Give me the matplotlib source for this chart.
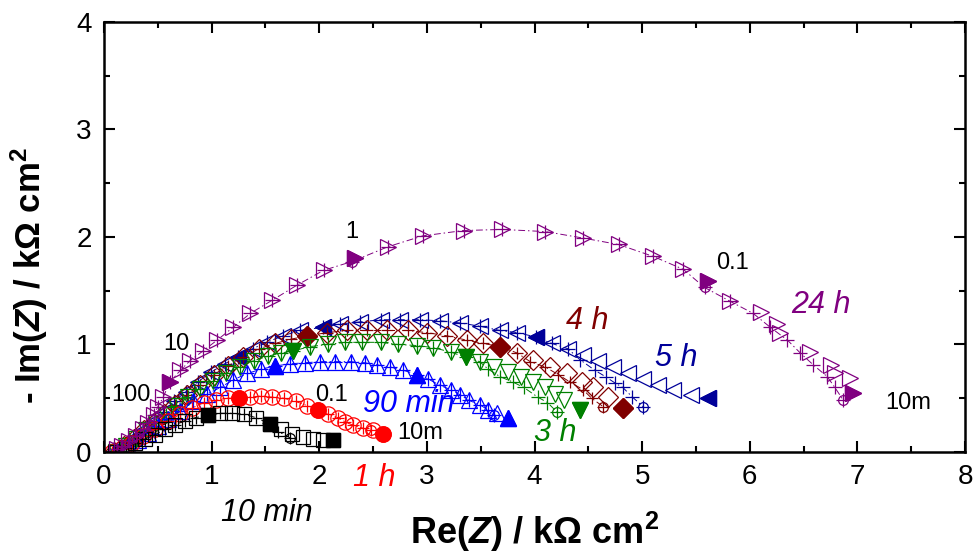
import matplotlib
matplotlib.use("Agg")
import matplotlib.pyplot as plt
from matplotlib.ticker import MultipleLocator

plt.rcParams['font.family'] = ['Liberation Sans', 'DejaVu Sans']
plt.rcParams['mathtext.fontset'] = 'custom'
plt.rcParams['mathtext.rm'] = 'Liberation Sans:bold'
plt.rcParams['mathtext.it'] = 'Liberation Sans:bold:italic'
plt.rcParams['mathtext.bf'] = 'Liberation Sans:bold'

# ---- data (Re Z, -Im Z in kOhm cm2) ----
# 10 min  (black squares)
x10 = [0.10,0.20,0.29,0.38,0.47,0.57,0.66,0.75,0.85,0.97,1.08,1.19,1.30,1.41,1.54,1.64,1.75,1.85,1.94,2.03,2.13]
y10 = [0.00,0.04,0.08,0.12,0.16,0.21,0.25,0.29,0.32,0.34,0.36,0.36,0.35,0.32,0.26,0.21,0.17,0.14,0.12,0.11,0.11]
x10_fit = [0.10,0.20,0.29,0.38,0.47,0.57,0.66,0.75,0.85,0.97,1.08,1.19,1.30,1.41,1.52,1.62,1.73]
y10_fit = [0.00,0.04,0.08,0.12,0.16,0.21,0.25,0.29,0.32,0.34,0.36,0.36,0.35,0.32,0.27,0.19,0.13]
x10_dec = [0.97, 1.54, 2.13]
y10_dec = [0.34, 0.26, 0.11]

# 1 h  (red circles)
x1 = [0.07,0.17,0.26,0.36,0.47,0.59,0.71,0.82,0.93,1.04,1.15,1.25,1.36,1.46,1.56,1.67,1.78,1.89,1.99,2.08,2.17,2.24,2.31,2.41,2.50,2.59]
y1 = [0.00,0.04,0.08,0.15,0.21,0.29,0.35,0.41,0.46,0.48,0.50,0.50,0.51,0.52,0.51,0.50,0.47,0.43,0.39,0.35,0.32,0.28,0.25,0.22,0.20,0.17]
x1_fit = [0.07,0.17,0.26,0.36,0.47,0.59,0.71,0.82,0.93,1.04,1.15,1.25,1.36,1.46,1.56,1.67,1.78,1.89,1.99,2.08,2.17,2.24,2.31,2.41,2.48]
y1_fit = [0.00,0.04,0.08,0.15,0.21,0.29,0.35,0.41,0.46,0.48,0.50,0.50,0.51,0.52,0.51,0.50,0.47,0.43,0.39,0.35,0.32,0.28,0.25,0.22,0.20]
x1_dec = [1.25, 1.99, 2.59]
y1_dec = [0.50, 0.39, 0.17]

# 90 min  (blue up triangles)
x90 = [0.13,0.22,0.32,0.41,0.50,0.59,0.71,0.83,0.96,1.08,1.20,1.33,1.46,1.59,1.73,1.87,2.01,2.15,2.29,2.42,2.54,2.66,2.78,2.91,3.01,3.12,3.22,3.31,3.39,3.49,3.57,3.65,3.75]
y90 = [0.00,0.06,0.11,0.18,0.24,0.31,0.38,0.47,0.54,0.60,0.67,0.73,0.77,0.80,0.82,0.83,0.84,0.84,0.84,0.83,0.81,0.79,0.76,0.72,0.68,0.62,0.58,0.53,0.48,0.44,0.39,0.36,0.32]
x90_fit = [0.13,0.22,0.32,0.41,0.50,0.59,0.71,0.83,0.96,1.08,1.20,1.33,1.46,1.59,1.73,1.87,2.01,2.15,2.29,2.42,2.54,2.66,2.78,2.91,3.01,3.12,3.22,3.31,3.39,3.49,3.57,3.62]
y90_fit = [0.00,0.06,0.11,0.18,0.24,0.31,0.38,0.47,0.54,0.60,0.67,0.73,0.77,0.80,0.82,0.83,0.84,0.84,0.84,0.83,0.81,0.79,0.76,0.72,0.68,0.62,0.58,0.53,0.48,0.44,0.39,0.34]
x90_dec = [1.59, 2.91, 3.75]
y90_dec = [0.80, 0.72, 0.32]

# 3 h  (green down triangles)
x3 = [0.11,0.20,0.30,0.39,0.48,0.58,0.67,0.78,0.89,1.01,1.13,1.26,1.39,1.52,1.64,1.76,1.91,2.08,2.24,2.40,2.57,2.73,2.91,3.06,3.22,3.36,3.49,3.62,3.75,3.87,3.99,4.10,4.19,4.27,4.42]
y3 = [0.00,0.06,0.12,0.20,0.27,0.34,0.43,0.51,0.59,0.66,0.73,0.79,0.85,0.89,0.92,0.94,0.98,1.00,1.02,1.02,1.02,1.00,0.99,0.97,0.93,0.88,0.84,0.79,0.74,0.70,0.65,0.60,0.54,0.48,0.39]
x3_fit = [0.11,0.20,0.30,0.39,0.48,0.58,0.67,0.78,0.89,1.01,1.13,1.26,1.39,1.52,1.64,1.76,1.91,2.08,2.24,2.40,2.57,2.73,2.91,3.06,3.22,3.36,3.49,3.57,3.68,3.80,3.90,4.03,4.12,4.21]
y3_fit = [0.00,0.06,0.12,0.20,0.27,0.34,0.43,0.51,0.59,0.66,0.73,0.79,0.85,0.89,0.92,0.94,0.98,1.00,1.02,1.02,1.02,1.00,0.99,0.97,0.93,0.88,0.84,0.77,0.70,0.65,0.60,0.51,0.46,0.37]
x3_dec = [1.76, 3.36, 4.42]
y3_dec = [0.94, 0.88, 0.39]

# 4 h  (dark red diamonds)
x4 = [0.09,0.19,0.28,0.37,0.46,0.56,0.66,0.77,0.89,1.02,1.15,1.29,1.44,1.59,1.74,1.89,2.07,2.26,2.44,2.63,2.82,3.00,3.19,3.37,3.52,3.68,3.84,3.99,4.14,4.30,4.44,4.54,4.68,4.82]
y4 = [0.00,0.06,0.12,0.20,0.27,0.35,0.44,0.53,0.62,0.72,0.80,0.88,0.96,1.01,1.05,1.08,1.11,1.13,1.13,1.13,1.13,1.11,1.08,1.04,1.01,0.98,0.92,0.86,0.79,0.73,0.65,0.60,0.51,0.41]
x4_fit = [0.09,0.19,0.28,0.37,0.46,0.56,0.66,0.77,0.89,1.02,1.15,1.29,1.44,1.59,1.74,1.89,2.07,2.26,2.44,2.63,2.82,3.00,3.19,3.37,3.52,3.68,3.84,3.96,4.10,4.22,4.33,4.45,4.53,4.64]
y4_fit = [0.00,0.06,0.12,0.20,0.27,0.35,0.44,0.53,0.62,0.72,0.80,0.88,0.96,1.01,1.05,1.08,1.11,1.13,1.13,1.13,1.13,1.11,1.08,1.04,1.01,0.98,0.92,0.84,0.79,0.72,0.65,0.58,0.50,0.42]
x4_dec = [1.89, 3.68, 4.82]
y4_dec = [1.08, 0.98, 0.41]

# 5 h  (navy left triangles)
x5 = [0.08,0.18,0.27,0.36,0.46,0.55,0.65,0.76,0.87,0.99,1.12,1.24,1.38,1.51,1.66,1.82,2.03,2.19,2.38,2.57,2.75,2.94,3.12,3.31,3.49,3.68,3.84,4.01,4.16,4.31,4.45,4.59,4.73,4.87,5.01,5.15,5.29,5.45,5.61]
y5 = [0.00,0.06,0.13,0.20,0.29,0.37,0.47,0.56,0.65,0.74,0.82,0.88,0.96,1.02,1.08,1.13,1.16,1.19,1.21,1.23,1.23,1.23,1.22,1.20,1.17,1.13,1.11,1.07,1.01,0.96,0.90,0.85,0.79,0.73,0.68,0.62,0.58,0.53,0.50]
x5_fit = [0.08,0.18,0.27,0.36,0.46,0.55,0.65,0.76,0.87,0.99,1.12,1.24,1.38,1.51,1.66,1.82,2.03,2.19,2.38,2.57,2.75,2.94,3.12,3.31,3.49,3.68,3.84,4.01,4.16,4.31,4.42,4.56,4.66,4.75,4.82,4.91,5.01]
y5_fit = [0.00,0.06,0.13,0.20,0.29,0.37,0.47,0.56,0.65,0.74,0.82,0.88,0.96,1.02,1.08,1.13,1.16,1.19,1.21,1.23,1.23,1.23,1.22,1.20,1.17,1.13,1.11,1.07,1.01,0.96,0.86,0.76,0.70,0.64,0.60,0.51,0.42]
x5_dec = [1.24, 2.03, 4.01, 5.61]
y5_dec = [0.88, 1.16, 1.07, 0.50]

# 24 h  (purple right triangles)
x24 = [0.12,0.17,0.23,0.30,0.36,0.41,0.46,0.50,0.55,0.61,0.71,0.80,0.92,1.05,1.20,1.36,1.56,1.79,2.04,2.33,2.64,2.96,3.34,3.70,4.10,4.45,4.78,5.10,5.38,5.61,5.82,6.10,6.25,6.28,6.56,6.75,6.79,6.93,6.96]
y24 = [0.03,0.06,0.10,0.15,0.21,0.27,0.34,0.42,0.51,0.65,0.76,0.85,0.94,1.04,1.16,1.29,1.41,1.55,1.69,1.80,1.91,2.01,2.06,2.07,2.05,1.99,1.93,1.82,1.70,1.59,1.40,1.30,1.19,1.11,0.93,0.81,0.73,0.69,0.55]
x24_fit = [0.12,0.17,0.23,0.30,0.36,0.41,0.46,0.50,0.55,0.61,0.71,0.80,0.92,1.05,1.20,1.36,1.56,1.79,2.04,2.30,2.64,2.96,3.34,3.70,4.10,4.45,4.78,5.10,5.38,5.58,5.82,6.03,6.19,6.35,6.47,6.59,6.72,6.79,6.87]
y24_fit = [0.03,0.06,0.10,0.15,0.21,0.27,0.34,0.42,0.51,0.65,0.76,0.85,0.94,1.04,1.16,1.29,1.41,1.55,1.69,1.77,1.91,2.01,2.06,2.07,2.05,1.99,1.93,1.82,1.70,1.53,1.40,1.29,1.16,1.04,0.92,0.81,0.70,0.60,0.48]
x24_dec = [0.61, 2.33, 5.61, 6.96]
y24_dec = [0.65, 1.80, 1.59, 0.55]
x24_fdec = [2.30, 5.58]
y24_fdec = [1.77, 1.53]

# frequency annotations (Hz)
freq_txt = ['100', '10', '1', '0.1', '0.1', '10m', '10m']
freq_x = [0.25, 0.67, 2.30, 5.84, 2.11, 2.94, 7.47]
freq_y = [0.53, 1.00, 2.05, 1.76, 0.53, 0.18, 0.46]

# series labels
lab_txt = ['10 min', '1 h', '90 min', '3 h', '4 h', '5 h', '24 h']
lab_x = [1.51, 2.51, 2.83, 4.19, 4.49, 5.32, 6.66]
lab_y = [-0.57, -0.24, 0.45, 0.18, 1.22, 0.87, 1.37]

c10, c1, c90, c3, c4, c5, c24 = 'black', '#ff0000', '#0000ff', '#008000', '#800000', '#000099', '#800080'
lab_col = [c10, c1, c90, c3, c4, c5, c24]

fig = plt.figure(figsize=(9.76, 5.56), dpi=100)
ax = fig.add_axes([0.1066, 0.1871, 0.8822, 0.7734])

dash = (0, (7, 3, 1.5, 3))


def series(x, y, xf, yf, xd, yd, mk, col, ms):
    ax.plot(xf, yf, ls=dash, lw=0.7, color=col, marker='+', ms=ms * 0.85, mew=0.9)
    ax.plot(x, y, ls='none', marker=mk, mfc='none', mec=col, ms=ms, mew=0.9)
    ax.plot(xd, yd, ls='none', marker=mk, color=col, ms=ms)
    ax.plot(xf[-1:], yf[-1:], ls='none', marker='o', mfc='none', mec=col, ms=7, mew=0.9)


series(x5, y5, x5_fit, y5_fit, x5_dec, y5_dec, '<', c5, 11.5)
series(x4, y4, x4_fit, y4_fit, x4_dec, y4_dec, 'D', c4, 10.5)
series(x3, y3, x3_fit, y3_fit, x3_dec, y3_dec, 'v', c3, 11.5)
series(x90, y90, x90_fit, y90_fit, x90_dec, y90_dec, '^', c90, 11.5)
series(x1, y1, x1_fit, y1_fit, x1_dec, y1_dec, 'o', c1, 11)
series(x10, y10, x10_fit, y10_fit, x10_dec, y10_dec, 's', c10, 10)
series(x24, y24, x24_fit, y24_fit, x24_dec, y24_dec, '>', c24, 11.5)
ax.plot(x24_fdec, y24_fdec, ls='none', marker='o', mfc='none', mec=c24, ms=7, mew=0.9)

for t, x, y in zip(freq_txt, freq_x, freq_y):
    ax.text(x, y, t, fontsize=17, ha='center', va='center', color='black')
for t, x, y, c in zip(lab_txt, lab_x, lab_y, lab_col):
    ax.text(x, y, t, fontsize=22, style='italic', ha='center', va='center', color=c, clip_on=False)

ax.set_xlim(0, 8)
ax.set_ylim(0, 4)
ax.xaxis.set_major_locator(MultipleLocator(1))
ax.xaxis.set_minor_locator(MultipleLocator(0.5))
ax.yaxis.set_major_locator(MultipleLocator(1))
ax.yaxis.set_minor_locator(MultipleLocator(0.5))
ax.tick_params(which='both', direction='in', top=True, right=True, width=1.5)
ax.tick_params(which='major', length=8, labelsize=20, pad=9)
ax.tick_params(which='minor', length=4.5)
for s in ax.spines.values():
    s.set_linewidth(1.8)

ax.set_xlabel('Re($\\mathit{Z}$) / kΩ cm$^2$', fontsize=26, fontweight='bold')
ax.set_ylabel('- Im($\\mathit{Z}$) / kΩ cm$^2$', fontsize=25, fontweight='bold')
ax.xaxis.set_label_coords(0.5, -0.135)
ax.yaxis.set_label_coords(-0.063, 0.41)

fig.savefig('out.png', dpi=100)
